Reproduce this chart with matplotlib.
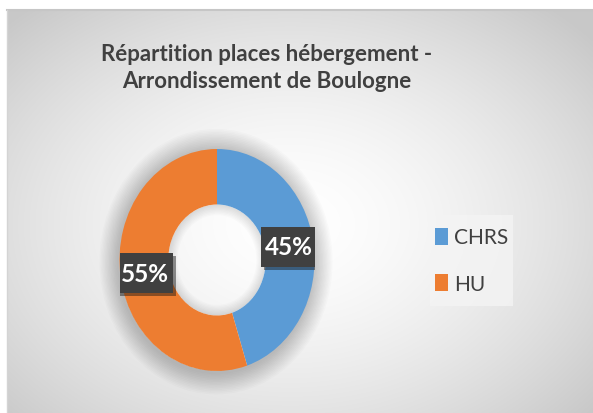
import numpy as np
import matplotlib
matplotlib.use('Agg')
import matplotlib.pyplot as plt
from matplotlib.patches import Rectangle, Wedge
import matplotlib.patheffects as pe

# ── DONNÉES ───────────────────────────────────────────────────────────────────
categories = ['CHRS', 'HU']
valeurs = [45, 55]
couleurs = ['#5B9BD5', '#ED7D31']
titre = 'Répartition places hébergement -\nArrondissement de Boulogne'

plt.rcParams['font.family'] = ['Lato', 'DejaVu Sans']

W, H = 593, 414
fig = plt.figure(figsize=(W / 100, H / 100), dpi=100)

# ── FOND (dégradé radial) ─────────────────────────────────────────────────────
bg = fig.add_axes([0, 0, 1, 1])
bg.axis('off')
yy, xx = np.mgrid[0:H, 0:W]
r = np.sqrt(((xx - 290) / 330) ** 2 + ((yy - 225) / 240) ** 2)
g = 1 - 0.16 * np.clip(r, 0, 1.2) ** 1.6
img = np.dstack([g, g, g])
img[:11, :] = 1
img[:, :7] = 1
bg.imshow(img, extent=(0, W, H, 0), aspect='auto', interpolation='bilinear')
bg.set_xlim(0, W)
bg.set_ylim(H, 0)
bg.plot([7, W], [11, 11], color='#c6c6c6', lw=1.5)
bg.plot([7, 7], [11, H], color='#d4d4d4', lw=1)
# fond de la légende
bg.add_patch(Rectangle((430, 216), 83, 91, facecolor='#f4f4f4', edgecolor='none', alpha=0.8))

fig.text(267 / W, 1 - 68 / H, titre, ha='center', va='center', fontsize=16,
         fontweight='bold', color='#404040', linespacing=1.4)

# ── ANNEAU ────────────────────────────────────────────────────────────────────
cx, cy, rx, ry = 217, 261, 97.5, 111
ax = fig.add_axes([(cx - rx) / W, (H - cy - ry) / H, 2 * rx / W, 2 * ry / H])
wedges, texts, autotexts = ax.pie(
    valeurs, colors=couleurs, startangle=90, counterclock=False, radius=1,
    wedgeprops=dict(width=0.5, edgecolor='none'), autopct='%.0f%%', pctdistance=0.75,
    textprops=dict(color='white', fontsize=17.5, fontweight='bold'))
ax.set_aspect('auto')
ax.set_xlim(-1, 1)
ax.set_ylim(-1, 1)
ax.axis('off')

# ombre douce autour de l'anneau
for i in range(14):
    rr = 1 + 0.014 * (i + 1)
    ax.add_patch(Wedge((-0.01, -0.015), rr, 0, 360, width=rr - 0.98, facecolor='k',
                       alpha=0.016, edgecolor='none', zorder=0, clip_on=False))
for i in range(8):
    ax.add_patch(Wedge((0, 0), 0.5, 0, 360, width=0.012 * (i + 1), facecolor='k',
                       alpha=0.014, edgecolor='none', zorder=0.5))

# étiquettes sur fond sombre
bw, bh = 56 / rx, 40 / ry
for t in autotexts:
    x, y = t.get_position()
    ax.add_patch(Rectangle((x - bw / 2, y - bh / 2), bw, bh, facecolor='#404040',
                           edgecolor='none', zorder=5,
                           path_effects=[pe.SimplePatchShadow(offset=(2, -2), alpha=0.45),
                                         pe.Normal()]))
    t.set_zorder(6)

leg = ax.legend(wedges, categories, loc='center', bbox_to_anchor=(471.5 / W, 1 - 261.5 / H),
                bbox_transform=fig.transFigure, frameon=False, fontsize=15,
                handlelength=0.6, handleheight=0.85, handletextpad=0.3,
                labelspacing=1.25, labelcolor='#404040')

plt.savefig('out.png', dpi=100)
